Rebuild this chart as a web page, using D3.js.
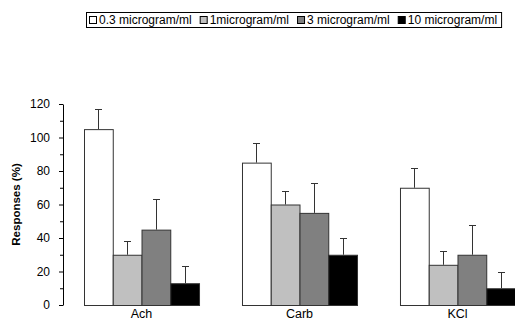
<!DOCTYPE html>
<html>
<head>
<meta charset="utf-8">
<script src="https://cdn.jsdelivr.net/npm/d3@7"></script>
<style>
  html, body { margin: 0; padding: 0; background: #fff; }
  svg { display: block; font-family: "Liberation Sans", Arial, sans-serif; }
</style>
</head>
<body>
<svg id="chart" width="515" height="320"></svg>
<script>
// Stimuli (groups along the x axis)
const categories = ["Ach", "Carb", "KCl"];

// Concentrations (series within each group)
const seriesNames = ["0.3 microgram/ml", "1microgram/ml", "3 microgram/ml", "10 microgram/ml"];
const seriesColors = ["#ffffff", "#c0c0c0", "#808080", "#000000"];

// Mean responses (%) per concentration, in the order of categories
const resp03 = [105, 85, 70];
const resp1 = [30, 60, 24];
const resp3 = [45, 55, 30];
const resp10 = [13, 30, 10];

// Upper error (SD) per concentration
const err03 = [12, 12, 12];
const err1 = [8, 8, 8];
const err3 = [18, 18, 18];
const err10 = [10, 10, 10];

// Y axis ticks
const majorTicks = [0, 20, 40, 60, 80, 100, 120];
const minorTicks = [10, 30, 50, 70, 90, 110];

const means = [resp03, resp1, resp3, resp10];
const errs = [err03, err1, err3, err10];

const rows = [];
categories.forEach((c, ci) => {
  seriesNames.forEach((s, si) => {
    rows.push({ cat: c, series: s, si, value: means[si][ci], err: errs[si][ci] });
  });
});

const svg = d3.select("#chart");

const x0 = d3.scaleBand().domain(categories).range([84, 515])
  .paddingInner(0.272).paddingOuter(0);
const x1 = d3.scaleBand().domain(seriesNames).range([0, x0.bandwidth()]).padding(0);
const y = d3.scaleLinear().domain([0, 120]).range([305, 104]);

// Y axis with major and minor ticks
const axisX = 63;
const yAxis = svg.append("g").attr("transform", `translate(${axisX},0)`)
  .call(d3.axisLeft(y).tickValues(majorTicks).tickSize(4).tickSizeOuter(0).tickPadding(9));
yAxis.select(".domain").attr("stroke", "#000");
yAxis.selectAll(".tick line").attr("stroke", "#000");
yAxis.selectAll(".tick text").attr("fill", "#000").attr("font-size", 12)
  .attr("font-family", "'Liberation Sans', Arial, sans-serif");

svg.append("g").attr("transform", `translate(${axisX},0)`)
  .selectAll("line").data(minorTicks).join("line")
  .attr("x1", -3).attr("x2", 0)
  .attr("y1", d => y(d) + 0.5).attr("y2", d => y(d) + 0.5)
  .attr("stroke", "#000");

// Y axis title
svg.append("text")
  .attr("transform", `translate(20,${(y(0) + y(120)) / 2}) rotate(-90)`)
  .attr("text-anchor", "middle")
  .attr("font-size", 11.5).attr("font-weight", "bold").attr("fill", "#000")
  .text("Responses (%)");

// Bars
const bars = svg.append("g");
bars.selectAll("rect").data(rows).join("rect")
  .attr("x", d => x0(d.cat) + x1(d.series) + 0.5)
  .attr("y", d => y(d.value) + 0.5)
  .attr("width", x1.bandwidth())
  .attr("height", d => y(0) - y(d.value))
  .attr("fill", d => seriesColors[d.si])
  .attr("stroke", "#333").attr("stroke-width", 1);

// Error bars (upper only)
const eb = svg.append("g").attr("stroke", "#333").attr("stroke-width", 1);
rows.forEach(d => {
  const cx = Math.round(x0(d.cat) + x1(d.series) + x1.bandwidth() / 2) + 0.5;
  const yTop = Math.round(y(d.value + d.err)) + 0.5;
  eb.append("line").attr("x1", cx).attr("x2", cx)
    .attr("y1", y(d.value)).attr("y2", yTop);
  eb.append("line").attr("x1", cx - 3.5).attr("x2", cx + 3.5)
    .attr("y1", yTop).attr("y2", yTop);
});

// Category labels
svg.append("g").selectAll("text").data(categories).join("text")
  .attr("x", d => x0(d) + x0.bandwidth() / 2)
  .attr("y", 318)
  .attr("text-anchor", "middle")
  .attr("font-size", 12.5).attr("fill", "#000")
  .text(d => d);

// Legend
const legend = svg.append("g");
const lgX = 86, lgTop = 12, lgH = 15, sq = 7;
let cursor = lgX + 3;
seriesNames.forEach((name, i) => {
  legend.append("rect")
    .attr("x", cursor + 0.5).attr("y", lgTop + (lgH - sq) / 2 + 0.5)
    .attr("width", sq).attr("height", sq)
    .attr("fill", seriesColors[i]).attr("stroke", "#000");
  const t = legend.append("text")
    .attr("x", cursor + sq + 3).attr("y", lgTop + lgH / 2 + 4)
    .attr("font-size", 12).attr("fill", "#000")
    .text(name);
  cursor += sq + 3 + t.node().getComputedTextLength() + 8;
});
legend.insert("rect", ":first-child")
  .attr("x", lgX + 0.5).attr("y", lgTop + 0.5)
  .attr("width", cursor - 8 + 4 - lgX).attr("height", lgH)
  .attr("fill", "#fff").attr("stroke", "#000");
</script>
</body>
</html>
